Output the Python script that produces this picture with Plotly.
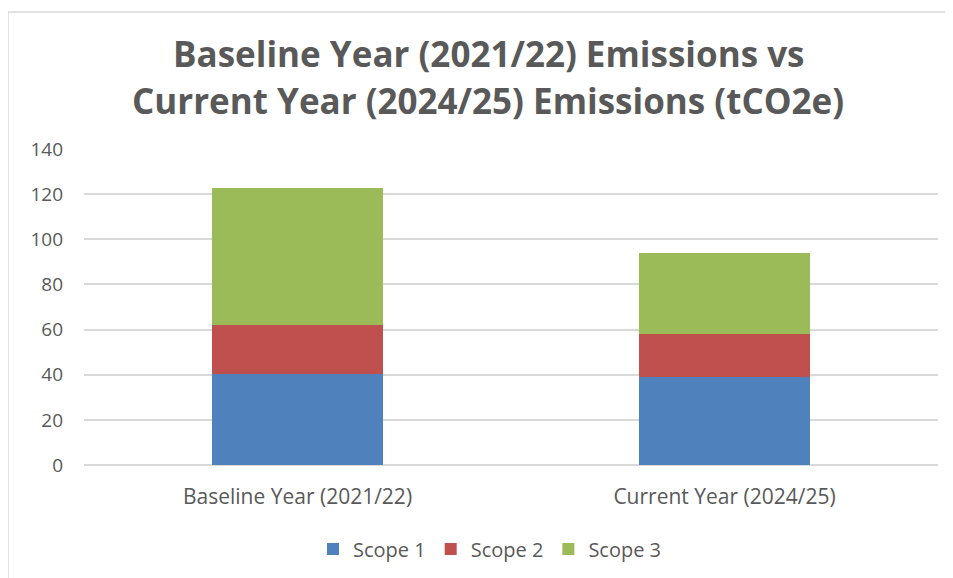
import plotly.graph_objects as go

categories = ["Baseline Year (2021/22)", "Current Year (2024/25)"]
scope1 = [40.5, 38.9]
scope2 = [21.7, 19.0]
scope3 = [60.6, 36.2]
series_names = ["Scope 1", "Scope 2", "Scope 3"]
colors = ["#4F81BD", "#C0504D", "#9BBB59"]
y_ticks = [0, 20, 40, 60, 80, 100, 120, 140]
title_lines = ["Baseline Year (2021/22) Emissions vs", "Current Year (2024/25) Emissions (tCO2e)"]

OFF = 8  # page body margin
W, H = 953 - 2 * OFF, 578 - OFF
L, T = 84 - OFF, 149 - OFF
pw, ph = 854, 316
R, B = W - L - pw, H - T - ph

def px_x(page_x):
    return (page_x - OFF - L) / pw

def px_y(page_y):
    return 1 + (T - (page_y - OFF)) / ph

fig = go.Figure()
for name, vals, c in zip(series_names, [scope1, scope2, scope3], colors):
    fig.add_trace(go.Bar(x=categories, y=vals, name=name, marker=dict(color=c, line=dict(width=0))))

text_color = "#595959"
annotations = []
for line, py in zip(title_lines, [54, 100]):
    annotations.append(dict(text=line, xref="paper", yref="paper", x=px_x(488), y=px_y(py),
                            xanchor="center", yanchor="middle", showarrow=False,
                            font=dict(family="Open Sans", size=35, color=text_color, weight="bold")))

border = dict(color="#d9d9d9", width=1.5)
fig.update_layout(
    width=W, height=H,
    margin=dict(l=L, r=R, t=T, b=B),
    barmode="stack", bargap=0.6,
    plot_bgcolor="white", paper_bgcolor="white",
    font=dict(family="Open Sans", color=text_color),
    annotations=annotations,
    legend=dict(orientation="h", x=px_x(490), xanchor="center", y=px_y(549), yanchor="middle",
                font=dict(size=20, color=text_color), traceorder="normal",
                itemwidth=30, tracegroupgap=0),
    showlegend=True,
    shapes=[
        dict(type="line", xref="paper", yref="paper", x0=px_x(8), x1=px_x(990),
             y0=px_y(12), y1=px_y(12), line=border, layer="below"),
        dict(type="line", xref="paper", yref="paper", x0=px_x(8), x1=px_x(8),
             y0=px_y(12), y1=px_y(600), line=border, layer="below"),
    ],
)
fig.update_xaxes(showgrid=False, showline=False, ticks="", tickfont=dict(size=21, color=text_color),
                 ticklabelstandoff=17)
fig.update_yaxes(range=[0, 140], tickvals=y_ticks, showgrid=True, gridcolor="#d9d9d9", gridwidth=1.5,
                 zeroline=True, zerolinecolor="#d9d9d9", zerolinewidth=1.5, showline=False,
                 tickfont=dict(size=19, color=text_color), ticklabelstandoff=20)

fig.write_html("out.html")
